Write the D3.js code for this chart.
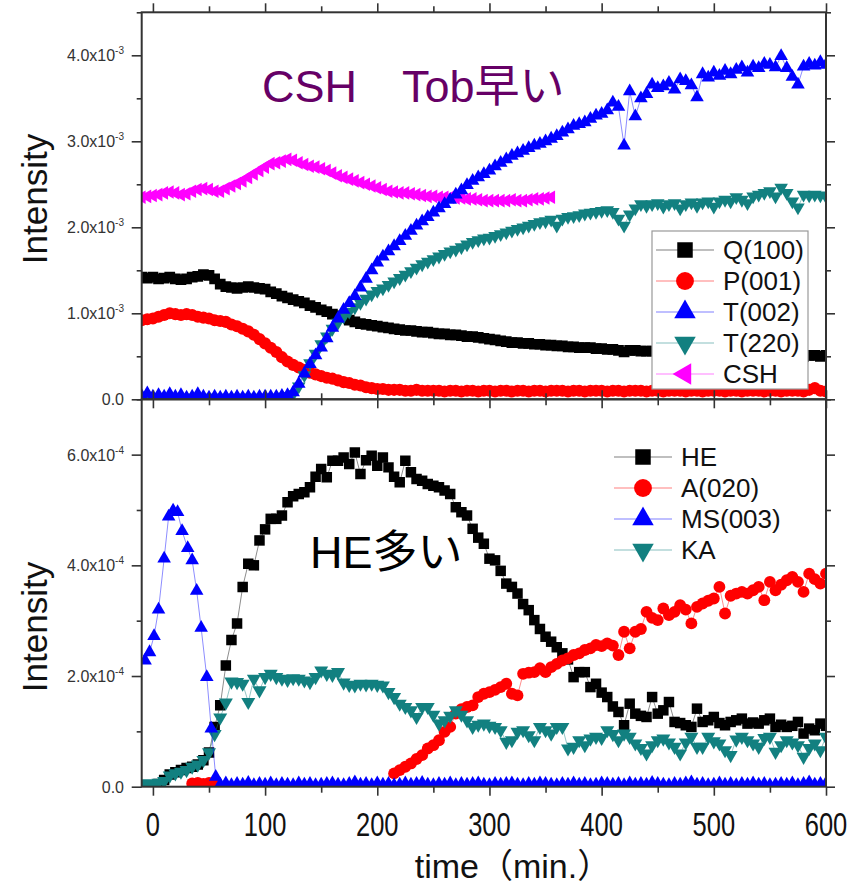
<!DOCTYPE html>
<html>
<head>
<meta charset="utf-8">
<script src="https://cdn.jsdelivr.net/npm/d3@7"></script>
<style>
  body { margin: 0; background: #fff; }
  text { font-family: "Liberation Sans", Arial, "Noto Sans CJK JP", sans-serif; }
</style>
</head>
<body>
<svg id="chart" width="859" height="888"></svg>
<script>
// sampling grids (min.)
const tTop = d3.range(-10, 601, 5);
const tBot = d3.range(-10, 601, 5);

// upper panel, intensity x 1e-3
const q100 = [1.42, 1.41,
  1.42, 1.40, 1.41, 1.42, 1.40, 1.39, 1.40, 1.42, 1.43, 1.45,
  1.44, 1.40, 1.34, 1.31, 1.30, 1.29, 1.30, 1.31, 1.30, 1.29,
  1.28, 1.25, 1.23, 1.20, 1.18, 1.16, 1.14, 1.12, 1.09, 1.07,
  1.04, 1.02, 0.99, 0.97, 0.95, 0.92, 0.90, 0.88, 0.87, 0.86,
  0.85, 0.84, 0.83, 0.82, 0.81, 0.80, 0.80, 0.79, 0.78, 0.78,
  0.77, 0.76, 0.76, 0.75, 0.75, 0.74, 0.73, 0.73, 0.72, 0.71,
  0.70, 0.69, 0.68, 0.67, 0.66, 0.66, 0.65, 0.65, 0.64, 0.64,
  0.63, 0.63, 0.62, 0.62, 0.61, 0.61, 0.60, 0.60, 0.60, 0.59,
  0.59, 0.58, 0.58, 0.57, 0.55, 0.57, 0.57, 0.56, 0.56, 0.56,
  0.55, 0.55, 0.55, 0.55, 0.54, 0.54, 0.54, 0.54, 0.53, 0.53,
  0.53, 0.53, 0.52, 0.53, 0.52, 0.52, 0.52, 0.52, 0.51, 0.52,
  0.52, 0.51, 0.52, 0.51, 0.51, 0.51, 0.50, 0.51, 0.51, 0.50,
  0.51];
const p001 = [0.92, 0.93,
  0.94, 0.96, 0.98, 1.00, 0.99, 0.98, 0.99, 0.98, 0.96, 0.95,
  0.94, 0.92, 0.91, 0.90, 0.87, 0.85, 0.82, 0.79, 0.75, 0.70,
  0.65, 0.60, 0.55, 0.49, 0.44, 0.40, 0.37, 0.34, 0.31, 0.29,
  0.27, 0.25, 0.24, 0.22, 0.20, 0.19, 0.17, 0.16, 0.14, 0.13,
  0.12, 0.12, 0.11, 0.11, 0.11, 0.10, 0.10, 0.11, 0.10, 0.10,
  0.10, 0.10, 0.09, 0.10, 0.10, 0.09, 0.10, 0.10, 0.09, 0.10,
  0.10, 0.09, 0.10, 0.10, 0.09, 0.10, 0.10, 0.09, 0.10, 0.10,
  0.09, 0.10, 0.10, 0.10, 0.09, 0.10, 0.10, 0.09, 0.10, 0.10,
  0.10, 0.09, 0.10, 0.10, 0.09, 0.10, 0.10, 0.10, 0.09, 0.10,
  0.10, 0.09, 0.10, 0.10, 0.10, 0.09, 0.10, 0.10, 0.09, 0.10,
  0.10, 0.10, 0.09, 0.10, 0.10, 0.09, 0.10, 0.10, 0.10, 0.09,
  0.10, 0.10, 0.09, 0.10, 0.10, 0.10, 0.09, 0.11, 0.13, 0.10,
  0.09];
const t002 = [0.04, 0.07,
  0.03, 0.05, 0.03, 0.06, 0.03, 0.05, 0.02, 0.03, 0.06, 0.03,
  0.02, 0.03, 0.02, 0.03, 0.02, 0.03, 0.02, 0.03, 0.02, 0.03,
  0.03, 0.03, 0.03, 0.04, 0.05, 0.08, 0.18, 0.30, 0.41, 0.51,
  0.60, 0.71, 0.83, 0.94, 1.04, 1.12, 1.20, 1.30, 1.40, 1.50,
  1.59, 1.66, 1.72, 1.78, 1.84, 1.90, 1.96, 2.02, 2.07, 2.12,
  2.17, 2.22, 2.27, 2.32, 2.38, 2.43, 2.49, 2.54, 2.58, 2.62,
  2.66, 2.71, 2.75, 2.79, 2.83, 2.86, 2.89, 2.92, 2.95, 2.97,
  3.00, 3.03, 3.06, 3.10, 3.14, 3.18, 3.20, 3.22, 3.26, 3.30,
  3.32, 3.36, 3.45, 3.40, 2.95, 3.58, 3.29, 3.50, 3.55, 3.66,
  3.62, 3.64, 3.68, 3.60, 3.72, 3.70, 3.65, 3.51, 3.78, 3.74,
  3.80, 3.76, 3.82, 3.78, 3.83, 3.86, 3.80, 3.87, 3.85, 3.90,
  3.89, 3.86, 3.99, 3.85, 3.75, 3.66, 3.87, 3.90, 3.88, 3.92,
  3.89];
const t220 = [0.02, 0.02,
  0.02, 0.02, 0.02, 0.02, 0.02, 0.02, 0.02, 0.02, 0.02, 0.02,
  0.02, 0.02, 0.02, 0.02, 0.02, 0.02, 0.02, 0.02, 0.02, 0.02,
  0.02, 0.02, 0.02, 0.03, 0.04, 0.06, 0.15, 0.28, 0.42, 0.53,
  0.64, 0.73, 0.82, 0.89, 0.96, 1.02, 1.07, 1.12, 1.17, 1.22,
  1.26, 1.29, 1.33, 1.37, 1.41, 1.45, 1.49, 1.53, 1.57, 1.60,
  1.63, 1.66, 1.69, 1.72, 1.74, 1.77, 1.80, 1.83, 1.85, 1.87,
  1.88, 1.90, 1.92, 1.94, 1.96, 1.98, 2.00, 2.02, 2.04, 2.06,
  2.07, 2.09, 2.02, 2.10, 2.12, 2.13, 2.14, 2.16, 2.17, 2.18,
  2.19, 2.20, 2.18, 2.10, 2.02, 2.15, 2.22, 2.27, 2.25, 2.27,
  2.28, 2.24, 2.27, 2.28, 2.22, 2.27, 2.29, 2.25, 2.29, 2.30,
  2.24, 2.30, 2.32, 2.30, 2.35, 2.32, 2.28, 2.36, 2.38, 2.40,
  2.42, 2.36, 2.46, 2.40, 2.30, 2.23, 2.38, 2.37, 2.38, 2.37,
  2.36];
const csh = [2.35, 2.36,
  2.37, 2.38, 2.40, 2.41, 2.40, 2.38, 2.39, 2.42, 2.44, 2.45,
  2.44, 2.42, 2.42, 2.45, 2.48, 2.51, 2.54, 2.58, 2.62, 2.66,
  2.70, 2.74, 2.75, 2.77, 2.79, 2.78, 2.75, 2.73, 2.71, 2.70,
  2.68, 2.66, 2.63, 2.60, 2.58, 2.56, 2.54, 2.52, 2.50, 2.48,
  2.46, 2.44, 2.42, 2.41, 2.40, 2.40, 2.39, 2.38, 2.37, 2.36,
  2.36, 2.35, 2.35, 2.35, 2.34, 2.34, 2.33, 2.33, 2.32, 2.31,
  2.31, 2.31, 2.31, 2.31, 2.32, 2.31, 2.31, 2.32, 2.33, 2.33,
  2.34, 2.35];

// lower panel, intensity x 1e-4
const he = [null, null,
  null, 0.05, 0.12, 0.22, 0.26, 0.30, 0.34, 0.36, 0.40, 0.48,
  0.62, 1.08, 1.47, 2.19, 2.65, 2.95, 3.61, 4.03, 4.00, 4.45,
  4.65, 4.84, 4.84, 4.90, 5.14, 5.25, 5.29, 5.32, 5.41, 5.60,
  5.74, 5.59, 5.89, 5.89, 5.95, 5.83, 6.04, 5.65, 5.90, 5.98,
  5.80, 5.95, 5.77, 5.60, 5.50, 5.89, 5.68, 5.56, 5.53, 5.47,
  5.44, 5.41, 5.35, 5.29, 5.05, 4.96, 4.90, 4.66, 4.50, 4.39,
  4.12, 4.09, 3.90, 3.67, 3.61, 3.49, 3.30, 3.19, 3.01, 2.85,
  2.71, 2.62, 2.52, 2.41, 2.30, 1.98, 2.07, 2.07, 1.80, 1.86,
  1.70, 1.62, 1.45, 1.35, 1.11, 1.50, 1.32, 1.28, 1.26, 1.62,
  1.32, 1.38, 1.53, 1.17, 1.15, 1.11, 1.08, 1.41, 1.17, 1.20,
  1.26, 1.15, 1.11, 1.17, 1.20, 1.23, 1.14, 1.16, 1.14, 1.20,
  1.23, 1.08, 1.12, 1.08, 1.10, 1.17, 0.96, 1.05, 1.02, 1.14,
  1.10];
const a020 = [null, null,
  null, null, null, null, null, null, null, 0.06, 0.07, 0.05,
  0.07, 0.06, null, null, null, null, null, null, null, null,
  null, null, null, null, null, null, null, null, null, null,
  null, null, null, null, null, null, null, null, null, null,
  null, null, null, 0.24, 0.30, 0.36, 0.42, 0.50, 0.57, 0.69,
  0.75, 0.84, 0.99, 1.08, 1.32, 1.40, 1.44, 1.47, 1.62, 1.68,
  1.71, 1.75, 1.80, 1.86, 1.68, 1.65, 2.04, 2.06, 2.07, 2.14,
  2.07, 2.16, 2.22, 2.28, 2.32, 2.38, 2.41, 2.47, 2.50, 2.56,
  2.54, 2.59, 2.55, 2.38, 2.80, 2.50, 2.80, 2.85, 3.16, 3.05,
  3.01, 3.22, 3.10, 3.16, 3.28, 3.20, 2.95, 3.25, 3.31, 3.36,
  3.40, 3.61, 3.13, 3.45, 3.49, 3.52, 3.49, 3.55, 3.61, 3.37,
  3.70, 3.55, 3.65, 3.73, 3.79, 3.70, 3.52, 3.85, 3.75, 3.67,
  3.85];
const ka = [0.05, 0.06,
  0.05, 0.07, 0.10, 0.20, 0.24, 0.27, 0.30, 0.36, 0.40, 0.48,
  0.62, 0.95, 1.25, 1.52, 1.90, 1.89, 1.86, 1.53, 1.95, 1.74,
  1.98, 2.04, 1.98, 1.95, 1.93, 1.96, 1.95, 1.92, 1.89, 1.98,
  2.10, 2.04, 2.02, 2.07, 1.88, 1.84, 1.83, 1.86, 1.85, 1.86,
  1.84, 1.83, 1.71, 1.62, 1.50, 1.44, 1.38, 1.26, 1.44, 1.44,
  1.30, 1.14, 1.20, 1.28, 1.38, 1.30, 1.20, 1.08, 1.12, 1.14,
  1.10, 1.08, 1.02, 0.81, 0.84, 0.99, 1.02, 0.93, 0.84, 1.08,
  1.02, 0.96, 1.08, 1.08, 0.69, 0.72, 0.84, 0.75, 0.87, 0.90,
  0.88, 1.02, 0.95, 0.84, 0.96, 0.90, 0.78, 0.70, 0.60, 0.75,
  0.84, 0.87, 0.80, 0.72, 0.60, 0.80, 0.90, 0.72, 0.72, 0.90,
  0.82, 0.78, 0.66, 0.57, 0.85, 0.90, 0.84, 0.78, 0.72, 0.88,
  0.90, 0.63, 0.75, 0.84, 0.80, 0.75, 0.54, 0.70, 0.78, 0.66,
  0.90];
const msTime = [-7, -3, 1, 5, 10, 14, 18, 22, 26, 31, 35, 39, 43, 48, 52, 56]
  .concat(d3.range(60, 601, 5));
const ms003 = [2.28, 2.43, 2.72, 3.20, 4.12, 4.88, 4.99, 4.96, 4.62, 4.31, 4.09, 3.54, 2.87, 1.98, 1.05, 0.18,
  0.04, 0.06, 0.03, 0.05, 0.04, 0.07, 0.03, 0.05, 0.04, 0.06,
  0.03, 0.05, 0.04, 0.03, 0.06, 0.04, 0.05, 0.03, 0.04, 0.05,
  0.06, 0.04, 0.03, 0.05, 0.08, 0.04, 0.05, 0.03, 0.06, 0.04,
  0.05, 0.03, 0.04, 0.06, 0.04, 0.05, 0.07, 0.04, 0.03, 0.05,
  0.04, 0.06, 0.03, 0.05, 0.04, 0.05, 0.06, 0.04, 0.03, 0.05,
  0.04, 0.05, 0.06, 0.04, 0.03, 0.05, 0.04, 0.06, 0.05, 0.04,
  0.03, 0.05, 0.04, 0.06, 0.04, 0.05, 0.03, 0.04, 0.06, 0.05,
  0.04, 0.05, 0.03, 0.06, 0.04, 0.05, 0.04, 0.07, 0.05, 0.04,
  0.03, 0.05, 0.04, 0.06, 0.08, 0.04, 0.05, 0.03, 0.04, 0.06,
  0.04, 0.05, 0.03, 0.05, 0.04, 0.06, 0.04, 0.05, 0.03, 0.04,
  0.05, 0.04, 0.06, 0.03, 0.05, 0.08, 0.04, 0.05, 0.06];

// axis ticks
const xMajor = [0, 100, 200, 300, 400, 500, 600];
const xMinor = [50, 150, 250, 350, 450, 550];
const yTopMajor = [0, 1, 2, 3, 4];
const yTopMinor = [0.5, 1.5, 2.5, 3.5, 4.5];
const yBotMajor = [0, 2, 4, 6];
const yBotMinor = [1, 3, 5, 7];

const svg = d3.select('#chart');
const X0 = 141.7, X1 = 826;
const x = d3.scaleLinear().domain([-10, 600]).range([X0, X1]);
const yTop = d3.scaleLinear().domain([0, 4.5]).range([399.3, 12.3]);
const yBot = d3.scaleLinear().domain([0, 7]).range([786.7, 399.3]);

const shapes = {
    square: { type: d3.symbolSquare, rot: 0 },
    circle: { type: d3.symbolCircle, rot: 0 },
    up: { type: d3.symbolTriangle, rot: 0 },
    down: { type: d3.symbolTriangle, rot: 180 },
    left: { type: d3.symbolTriangle, rot: -90 },
};

function markerPath(shape, size) {
    return d3.symbol().type(shapes[shape].type).size(size)();
}

function drawSeries(g, y, s) {
    const pts = s.time.map((t, i) => ({ t: t, v: s.values[i] }))
        .filter((d, i) => i < s.values.length);
    const line = d3.line()
        .defined(d => d.v != null)
        .x(d => x(d.t))
        .y(d => y(d.v));
    g.append('path')
        .datum(pts)
        .attr('d', line)
        .attr('fill', 'none')
        .attr('stroke', s.color)
        .attr('stroke-opacity', 0.45)
        .attr('stroke-width', 1);
    const d = markerPath(s.shape, s.size);
    g.append('g').selectAll('path')
        .data(pts.filter(p => p.v != null))
        .join('path')
        .attr('d', d)
        .attr('fill', s.color)
        .attr('transform', p => 'translate(' + x(p.t) + ',' + y(p.v) + ') rotate(' + shapes[s.shape].rot + ')');
}

function sciLabel(sel, v, exp) {
    if (v === 0) {
        sel.text('0.0');
        return;
    }
    sel.append('tspan').text(v.toFixed(1) + 'x10');
    sel.append('tspan').attr('font-size', 10).attr('dy', -7).text('-' + exp);
}

function drawFrame(y, yMajor, yMinor, exp, showXLabels) {
    const top = y.range()[1], bottom = y.range()[0];
    const g = svg.append('g');
    const axes = [
        [d3.axisTop(x).tickValues(xMajor).tickSize(9), 0, top],
        [d3.axisTop(x).tickValues(xMinor).tickSize(6), 0, top],
        [d3.axisBottom(x).tickValues(xMajor).tickSize(9), 0, bottom],
        [d3.axisBottom(x).tickValues(xMinor).tickSize(6), 0, bottom],
        [d3.axisLeft(y).tickValues(yMajor).tickSize(10), X0, 0],
        [d3.axisLeft(y).tickValues(yMinor).tickSize(5), X0, 0],
        [d3.axisRight(y).tickValues(yMajor).tickSize(9), X1, 0],
        [d3.axisRight(y).tickValues(yMinor).tickSize(5), X1, 0],
    ];
    axes.forEach(a => {
        g.append('g')
            .attr('transform', 'translate(' + a[1] + ',' + a[2] + ')')
            .call(a[0].tickFormat(''))
            .call(ax => ax.select('.domain').remove())
            .call(ax => ax.selectAll('line').attr('stroke', '#333').attr('stroke-width', 1.6));
    });
    g.append('rect')
        .attr('x', X0).attr('y', top)
        .attr('width', X1 - X0).attr('height', bottom - top)
        .attr('fill', 'none').attr('stroke', '#333').attr('stroke-width', 2);

    g.selectAll('.ylab')
        .data(yMajor)
        .join('text')
        .attr('class', 'ylab')
        .attr('x', 124)
        .attr('y', v => y(v) + 6)
        .attr('text-anchor', 'end')
        .attr('font-size', 16)
        .attr('fill', '#333')
        .each(function (v) { sciLabel(d3.select(this), v, exp); });

    if (showXLabels) {
        g.selectAll('.xlab')
            .data(xMajor)
            .join('text')
            .attr('class', 'xlab')
            .attr('transform', v => 'translate(' + x(v) + ',836) scale(0.75,1)')
            .attr('text-anchor', 'middle')
            .attr('font-size', 34)
            .attr('fill', '#111')
            .text(v => v);
    }
}

function clipGroup(id, y) {
    svg.append('clipPath').attr('id', id)
        .append('rect')
        .attr('x', X0).attr('y', y.range()[1])
        .attr('width', X1 - X0).attr('height', y.range()[0] - y.range()[1]);
    return svg.append('g').attr('clip-path', 'url(#' + id + ')');
}

// upper panel
const topSeries = [
    { name: 'Q(100)', time: tTop, values: q100, color: '#000000', shape: 'square', size: 115 },
    { name: 'P(001)', time: tTop, values: p001, color: '#ff0000', shape: 'circle', size: 115 },
    { name: 'T(002)', time: tTop, values: t002, color: '#0000ff', shape: 'up', size: 80 },
    { name: 'T(220)', time: tTop, values: t220, color: '#128080', shape: 'down', size: 80 },
    { name: 'CSH', time: tTop, values: csh, color: '#ff00ff', shape: 'left', size: 80 },
];
const topG = clipGroup('clipTop', yTop);
[4, 0, 1, 3, 2].forEach(i => drawSeries(topG, yTop, topSeries[i]));

// lower panel
const botSeries = [
    { name: 'HE', time: tBot, values: he, color: '#000000', shape: 'square', size: 110 },
    { name: 'A(020)', time: tBot, values: a020, color: '#ff0000', shape: 'circle', size: 110 },
    { name: 'MS(003)', time: msTime, values: ms003, color: '#0000ff', shape: 'up', size: 80 },
    { name: 'KA', time: tBot, values: ka, color: '#128080', shape: 'down', size: 85 },
];
const botG = clipGroup('clipBot', yBot);
[0, 1, 3, 2].forEach(i => drawSeries(botG, yBot, botSeries[i]));

drawFrame(yTop, yTopMajor, yTopMinor, 3, false);
drawFrame(yBot, yBotMajor, yBotMinor, 4, true);

// legends
function drawLegend(series, lx, ly, step, box) {
    const g = svg.append('g');
    if (box) {
        g.append('rect')
            .attr('x', box[0]).attr('y', box[1])
            .attr('width', box[2]).attr('height', box[3])
            .attr('fill', '#fff').attr('stroke', '#999').attr('stroke-width', 1.2);
    }
    series.forEach((s, i) => {
        const cy = ly + i * step;
        g.append('line')
            .attr('x1', lx - 29).attr('x2', lx + 29)
            .attr('y1', cy).attr('y2', cy)
            .attr('stroke', s.color).attr('stroke-opacity', 0.5).attr('stroke-width', 1);
        g.append('path')
            .attr('d', markerPath(s.shape, s.shape === 'square' ? 240 : s.shape === 'circle' ? 250 : 200))
            .attr('fill', s.color)
            .attr('transform', 'translate(' + lx + ',' + cy + ') rotate(' + shapes[s.shape].rot + ')');
        g.append('text')
            .attr('x', lx + 38).attr('y', cy + 9)
            .attr('font-size', 26)
            .attr('fill', '#111')
            .text(s.name);
    });
}
drawLegend(topSeries, 685, 250, 31, [652, 231, 156, 158]);
drawLegend(botSeries, 643, 457, 31, null);

// annotations and titles
svg.append('text')
    .attr('x', 262).attr('y', 102)
    .attr('font-size', 45)
    .attr('fill', '#660066')
    .text('CSH\u3000Tob早い');
svg.append('text')
    .attr('x', 310).attr('y', 568)
    .attr('font-size', 45)
    .attr('fill', '#000')
    .text('HE多い');

[[199], [627]].forEach(c => {
    svg.append('text')
        .attr('transform', 'translate(47,' + c[0] + ') rotate(-90)')
        .attr('text-anchor', 'middle')
        .attr('font-size', 35)
        .attr('fill', '#111')
        .text('Intensity');
});
svg.append('text')
    .attr('x', 513).attr('y', 878)
    .attr('text-anchor', 'middle')
    .attr('font-size', 34)
    .attr('fill', '#111')
    .text('time（min.）');
</script>
</body>
</html>
